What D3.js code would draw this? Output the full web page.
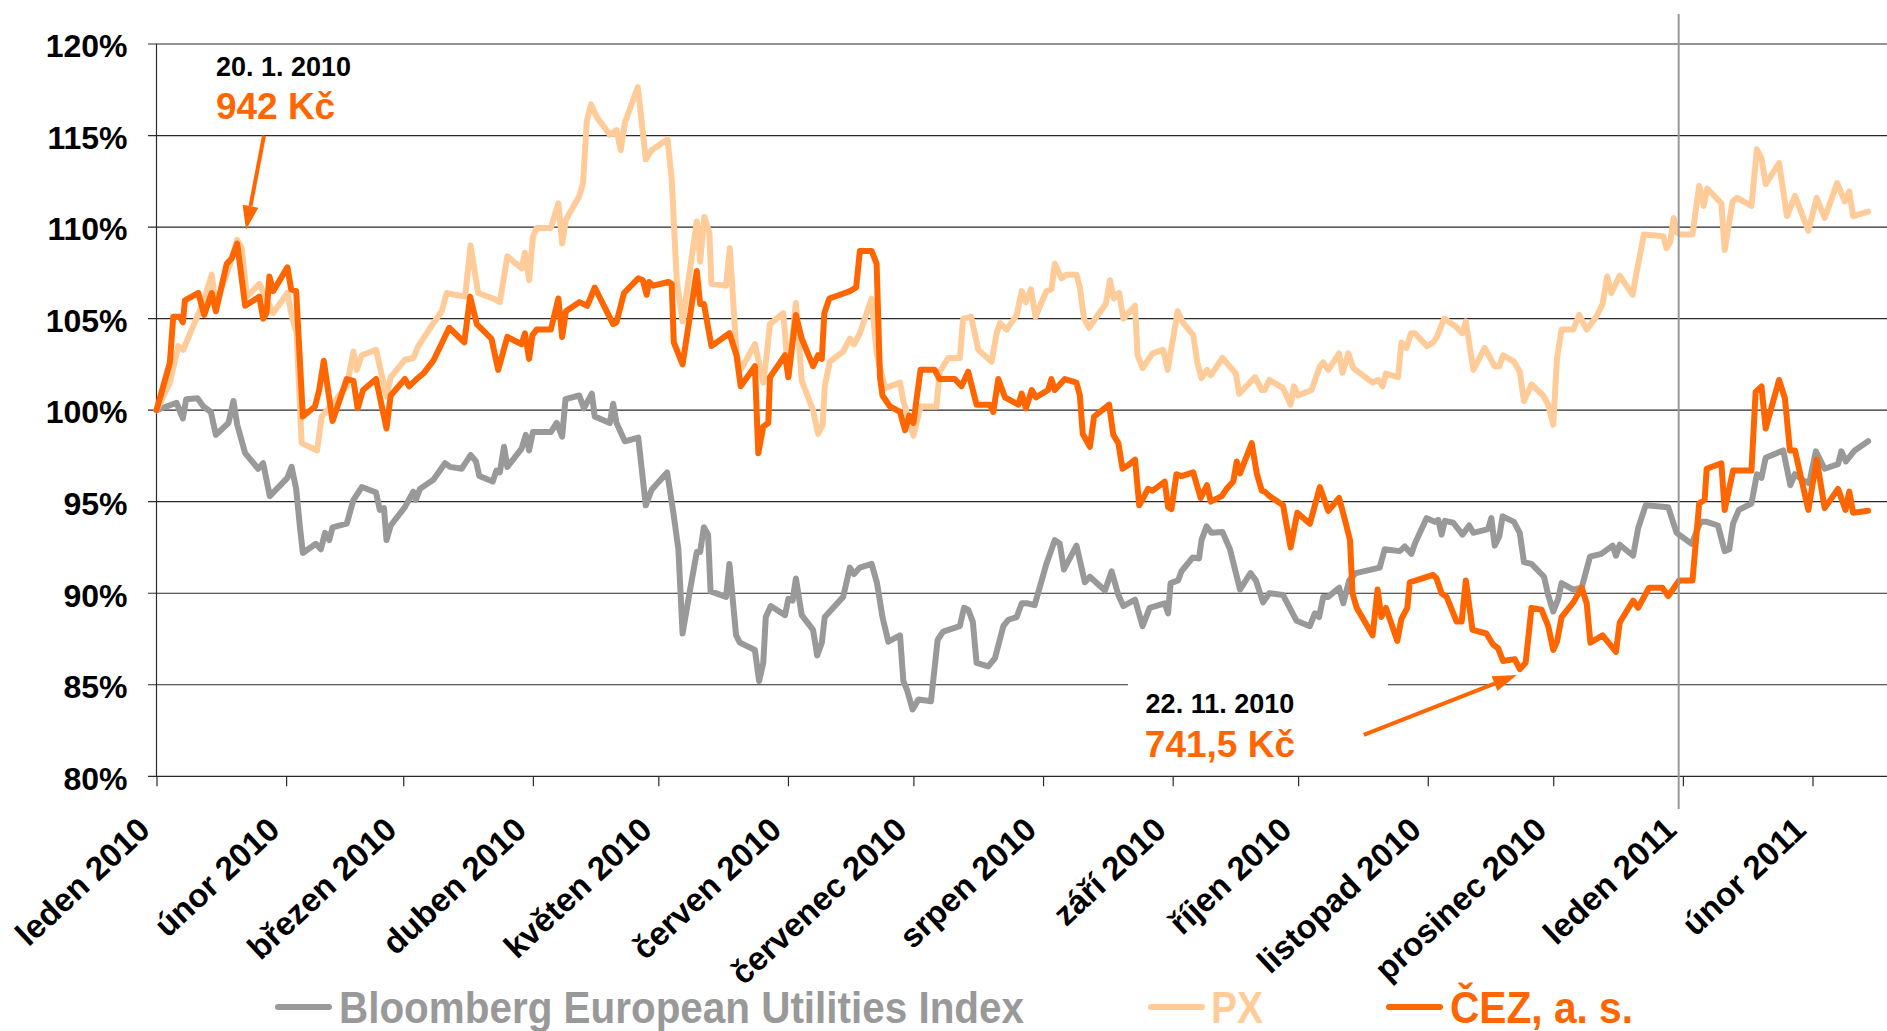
<!DOCTYPE html>
<html>
<head>
<meta charset="utf-8">
<script src="https://cdnjs.cloudflare.com/ajax/libs/d3/7.8.5/d3.min.js"></script>
<style>
  body { margin: 0; background: #fff; }
  svg { display: block; font-family: "Liberation Sans", Arial, sans-serif; font-weight: bold; }
</style>
</head>
<body>
<svg id="chart" width="1887" height="1031"></svg>
<script>
// each point: [days since 1 Jan 2010, % of the starting level]
const bloomberg = [[0,100],[2.4,100.2],[4.8,100.4],[6.3,99.55],[7.1,100.6],[9.8,100.65],[11.2,100.2],[13.0,99.9],[14.2,98.65],[17.2,99.3],[18.4,100.5],[19.3,99.2],[21.2,97.65],[24.3,96.8],[25.5,97.1],[27.1,95.3],[31.3,96.3],[32.3,96.9],[33.4,95.7],[34.3,93.6],[35.0,92.2],[38.1,92.7],[39.3,92.4],[40.3,93.3],[41.3,92.9],[42.1,93.6],[45.5,93.8],[47.1,95.1],[49.1,95.8],[52.5,95.5],[53.4,94.55],[54.4,94.65],[55.0,92.9],[56.0,93.7],[59.4,94.7],[61.4,95.55],[62.0,95.1],[63.0,95.7],[66.2,96.2],[69.0,97.1],[70.2,96.9],[73.0,96.8],[75.1,97.55],[76.4,97.2],[77.2,96.4],[80.4,96.1],[81.3,96.7],[82.1,96.6],[83.1,98.0],[83.9,96.9],[87.3,97.9],[88.3,98.65],[89.1,97.8],[90.0,98.8],[94.3,98.8],[95.7,99.3],[97.0,98.55],[97.8,100.6],[101.1,100.8],[102.2,100.1],[104.1,100.9],[104.8,99.65],[108.4,99.3],[109.2,100.35],[110.0,99.3],[112.0,98.3],[115.2,98.5],[117.0,94.8],[118.4,95.65],[122.1,96.6],[123.6,94.4],[124.8,92.4],[125.8,87.8],[127.6,90.2],[129.2,92.25],[130.0,92.25],[130.9,93.6],[131.9,93.2],[132.5,90.1],[136.2,89.8],[137.0,91.6],[138.6,87.7],[139.5,87.3],[143.1,86.9],[144.1,85.2],[145.1,86.2],[145.7,88.7],[146.9,89.3],[150.3,88.8],[151.1,89.7],[152.1,89.6],[152.9,90.8],[154.3,88.8],[157.0,88.0],[158.0,86.6],[159.1,87.3],[159.8,88.7],[164.2,89.8],[165.8,91.4],[166.8,91.05],[168.2,91.4],[171.0,91.6],[172.3,90.55],[173.6,88.7],[175.0,87.35],[177.8,87.7],[178.6,85.2],[179.5,84.7],[180.8,83.65],[182.2,84.2],[185.2,84.1],[186.8,87.45],[188.1,87.9],[192.1,88.2],[193.1,89.2],[194.1,89.1],[195.2,88.45],[196.1,86.2],[198.9,86.0],[200.5,86.45],[202.5,88.2],[203.7,88.55],[205.7,88.7],[206.9,89.45],[208.1,89.45],[210.0,89.35],[212.8,91.6],[214.8,92.9],[216.0,92.7],[217.0,91.3],[220.0,92.6],[222.0,90.6],[223.2,90.9],[226.8,90.15],[228.4,91.2],[230.0,89.9],[231.2,89.3],[234.0,89.65],[235.8,88.2],[237.5,89.2],[241.1,89.45],[241.9,88.9],[242.5,90.55],[244.3,90.7],[245.1,91.2],[247.8,91.95],[249.3,91.9],[249.9,92.9],[251.1,93.65],[252.3,93.3],[254.9,93.35],[256.7,92.4],[259.1,90.2],[261.6,91.1],[262.9,90.7],[264.6,89.5],[266.1,90.0],[269.4,89.9],[272.6,88.5],[275.8,88.2],[277.0,88.9],[278.0,88.7],[279.0,89.8],[280.2,89.8],[282.8,90.3],[283.8,89.45],[285.2,90.7],[286.8,91.1],[292.5,91.4],[293.7,92.4],[297.3,92.3],[298.5,92.55],[300.1,92.15],[300.9,92.7],[303.7,94.1],[305.7,93.9],[306.5,94.0],[307.3,93.2],[308.1,93.95],[310.1,93.85],[312.3,93.2],[313.9,93.7],[314.9,93.3],[318.4,93.5],[319.2,94.1],[320.0,92.6],[321.1,93.1],[321.9,94.2],[324.6,93.9],[326.0,93.3],[327.0,91.7],[328.8,91.6],[331.8,90.9],[332.8,89.9],[334.0,89.0],[335.2,89.7],[336.0,90.55],[338.8,90.2],[340.8,90.3],[342.8,92.0],[345.5,92.15],[348.2,92.6],[349.0,92.05],[349.9,92.65],[353.1,92.05],[354.3,93.55],[356.1,94.8],[361.5,94.7],[363.5,93.3],[367.1,92.7],[369.2,93.9],[370.7,93.9],[373.4,93.7],[375.0,92.3],[376.1,92.4],[377.0,93.8],[378.4,94.55],[381.4,94.9],[382.7,96.5],[383.8,96.3],[384.8,97.4],[389.0,97.8],[390.7,95.9],[391.8,96.5],[393.9,96.15],[395.2,96.0],[396.8,97.75],[398.9,96.8],[402.1,97.05],[402.9,97.75],[404.0,97.2],[406.1,97.8],[409.3,98.3]];

const px = [[0,100],[3.2,101.5],[5.2,103.5],[6.4,103.3],[8.4,104.4],[11.2,105.9],[13.2,107.4],[14.2,105.75],[17.6,108.0],[19.3,109.3],[20.4,108.85],[21.6,106.2],[24.6,106.9],[27.9,105.3],[31.3,106.4],[32.3,105.2],[33.5,104.2],[34.7,98.2],[38.4,97.8],[39.5,99.65],[45.5,101.3],[47.1,103.2],[47.9,102.2],[49.1,103.0],[52.5,103.3],[55.0,100.75],[56.0,101.8],[59.4,102.75],[61.4,102.85],[62.6,103.5],[66.2,104.75],[68.2,105.4],[69.4,106.4],[71.4,106.3],[73.8,106.2],[75.1,109.0],[76.9,106.4],[80.5,106.1],[82.1,105.9],[83.9,108.4],[87.3,107.75],[88.1,108.6],[89.1,107.1],[90.0,109.45],[90.9,109.95],[94.3,109.95],[96.1,111.3],[97.0,109.1],[97.9,110.4],[101.1,111.7],[102.0,112.4],[102.9,115.8],[103.9,116.7],[105.3,116.0],[108.4,115.05],[110.0,115.3],[111.0,114.2],[112.0,115.7],[115.1,117.65],[117.0,113.7],[118.4,114.2],[122.2,114.8],[123.2,112.6],[124.4,107.1],[125.8,104.85],[129.2,110.3],[130.0,108.1],[131.0,110.55],[132.2,109.7],[132.7,106.9],[136.2,106.8],[137.1,108.85],[138.7,103.1],[139.7,102.2],[143.1,103.6],[145.1,101.5],[145.7,102.6],[146.7,104.7],[149.9,105.3],[151.1,101.8],[152.9,105.85],[154.3,101.6],[157.0,100.0],[158.2,98.7],[159.3,99.2],[159.8,101.3],[161.0,102.65],[164.2,103.2],[165.8,103.9],[166.8,103.6],[168.2,104.2],[171.0,106.1],[172.2,103.1],[174.2,101.2],[177.8,101.5],[178.6,100.5],[181.0,98.6],[182.7,100.2],[186.5,100.2],[187.3,102.1],[189.3,102.85],[192.1,102.85],[192.9,105.0],[194.8,105.1],[196.5,103.3],[199.7,102.65],[200.9,104.2],[201.7,104.75],[203.3,104.4],[205.7,105.2],[206.9,106.5],[207.9,105.9],[209.1,106.6],[210.2,105.1],[212.8,106.5],[214.0,106.6],[214.8,108.0],[216.4,107.2],[217.6,107.4],[220.0,107.4],[220.8,106.7],[221.8,105.0],[223.0,104.5],[224.8,105.1],[227.0,105.8],[228.0,107.1],[228.9,106.1],[230.2,106.4],[231.2,105.0],[234.0,105.7],[234.6,103.0],[235.8,102.3],[238.2,103.1],[240.7,103.3],[241.8,102.2],[244.2,105.4],[245.4,104.8],[247.9,104.1],[248.9,102.6],[249.9,101.75],[251.2,102.2],[252.1,101.9],[254.9,102.85],[258.1,102.0],[258.9,100.9],[262.7,101.8],[264.3,101.1],[265.0,101.1],[266.1,101.65],[269.4,101.2],[271.2,100.3],[272.0,101.3],[273.0,100.8],[276.2,101.1],[278.2,102.4],[279.0,102.6],[280.2,102.2],[282.8,103.1],[283.6,102.05],[285.0,103.1],[286.2,102.3],[290.8,101.5],[292.1,101.65],[293.2,101.3],[294.0,102.0],[296.9,101.8],[297.7,103.7],[298.9,103.4],[300.0,104.2],[300.9,104.2],[303.8,103.5],[305.3,103.7],[306.2,104.0],[307.9,105.0],[310.5,104.6],[312.3,104.2],[313.1,104.85],[314.9,102.2],[317.6,103.4],[320.0,102.4],[321.1,102.4],[322.0,103.0],[324.6,102.65],[326.0,102.1],[327.0,100.5],[328.8,101.4],[331.6,100.8],[332.8,100.3],[334.0,99.2],[334.9,102.85],[336.0,104.4],[338.8,104.4],[340.2,105.2],[342.0,104.4],[344.3,105.1],[345.8,105.8],[346.9,107.3],[347.9,106.4],[349.9,107.35],[353.0,106.3],[353.9,107.5],[355.7,109.6],[360.3,109.5],[361.1,108.85],[362.0,109.2],[362.8,110.5],[363.6,109.7],[364.3,109.6],[367.3,109.6],[368.9,112.25],[370.0,111.15],[370.8,112.1],[374.2,111.3],[375.0,108.75],[376.9,111.4],[378.0,111.6],[381.4,111.15],[382.7,114.25],[383.8,113.75],[384.8,112.35],[388.0,113.5],[389.9,110.6],[391.8,111.7],[395.0,109.8],[397.0,111.6],[398.9,110.5],[401.9,112.4],[403.7,111.4],[404.8,111.95],[405.7,110.6],[409.3,110.85]];

const cez = [[0,100],[1.6,101.3],[3.2,102.6],[4.0,105.1],[5.6,105.1],[6.3,104.8],[6.8,106.0],[10.0,106.4],[11.4,105.2],[13.2,106.4],[14.2,105.4],[16.8,108.0],[18.0,108.3],[19.3,109.1],[21.2,105.7],[24.6,106.2],[25.5,105.0],[26.3,105.3],[27.0,107.3],[27.9,106.5],[31.3,107.8],[32.2,106.6],[33.4,106.5],[35.0,99.65],[37.9,100.2],[38.9,101.1],[40.0,102.7],[42.1,99.4],[45.5,101.7],[47.1,101.6],[48.1,100.1],[49.4,101.1],[52.5,101.7],[55.0,99.0],[56.0,100.8],[59.4,101.7],[60.4,101.3],[62.2,101.7],[63.8,102.0],[66.2,102.7],[70.0,104.5],[73.6,103.7],[75.0,106.2],[76.6,104.7],[80.1,103.9],[81.7,102.2],[83.9,104.0],[87.3,103.6],[88.1,104.2],[89.1,102.8],[89.9,104.1],[90.9,104.4],[94.3,104.4],[96.1,106.1],[97.0,104.0],[97.9,105.4],[101.1,105.9],[103.0,105.7],[104.8,106.7],[109.2,104.7],[110.0,104.8],[111.8,106.4],[115.2,107.2],[116.3,107.1],[117.2,106.3],[117.8,107.0],[118.8,106.8],[122.4,107.0],[123.2,106.9],[123.7,103.7],[125.8,102.5],[129.2,107.6],[130.0,105.8],[130.9,105.8],[132.7,103.5],[137.0,104.2],[138.7,103.0],[139.7,101.3],[143.1,102.4],[143.9,97.65],[145.1,99.1],[146.3,99.3],[146.7,101.8],[150.3,103.0],[151.1,101.8],[152.9,105.2],[154.3,103.9],[157.0,102.4],[158.2,103.0],[159.1,102.8],[159.7,105.3],[160.9,106.1],[164.6,106.4],[165.8,106.5],[167.3,106.7],[168.2,108.7],[171.0,108.7],[172.2,108.0],[173.0,101.8],[173.6,100.8],[175.4,100.2],[177.8,99.9],[179.0,98.9],[180.0,99.7],[181.0,99.3],[182.7,102.2],[186.1,102.2],[187.2,101.7],[190.9,101.7],[192.5,101.3],[194.1,102.1],[196.1,100.3],[199.3,100.3],[200.1,99.9],[201.3,101.7],[202.9,100.7],[206.1,100.3],[206.9,100.9],[207.9,100.1],[209.3,101.1],[210.3,100.7],[213.2,101.1],[214.0,101.7],[214.8,101.1],[217.2,101.7],[220.0,101.5],[220.8,100.8],[221.5,98.7],[223.2,98.0],[224.2,99.65],[227.8,100.3],[228.8,98.65],[230.0,98.2],[231.0,96.8],[232.4,97.0],[234.0,97.3],[235.0,94.8],[237.1,95.7],[238.2,95.6],[241.1,96.1],[241.9,94.7],[242.7,94.6],[243.9,96.5],[245.1,96.4],[247.9,96.6],[249.7,95.2],[251.2,95.9],[252.1,95.0],[254.7,95.3],[255.9,95.7],[257.5,96.1],[258.3,97.2],[259.1,96.55],[261.9,98.2],[263.1,96.55],[264.3,95.6],[265.0,95.55],[266.2,95.3],[269.4,94.8],[271.2,92.5],[272.8,94.4],[275.8,93.8],[278.2,95.8],[280.2,94.5],[282.8,95.2],[284.2,94.0],[285.4,92.9],[286.0,90.0],[287.0,89.2],[290.8,87.7],[292.0,90.2],[292.9,88.7],[294.0,89.2],[296.7,87.4],[297.7,88.6],[299.1,89.2],[299.7,90.6],[302.5,90.8],[305.3,91.0],[306.1,90.8],[307.3,90.0],[308.5,89.8],[310.9,88.45],[312.1,88.45],[313.1,90.7],[314.7,88.0],[318.0,87.8],[319.6,87.2],[320.8,87.0],[322.0,86.3],[324.8,86.4],[326.0,85.85],[327.4,86.2],[328.8,89.2],[331.2,89.1],[332.8,88.2],[334.0,86.9],[334.9,87.35],[336.0,88.7],[338.8,89.5],[340.8,90.3],[342.0,89.45],[342.9,87.3],[345.8,87.7],[349.0,86.8],[349.9,88.4],[353.1,89.6],[354.3,89.2],[356.9,90.3],[360.1,90.3],[361.5,89.85],[364.1,90.7],[367.3,90.7],[368.9,94.9],[370.2,95.1],[370.7,96.8],[374.2,97.1],[375.0,94.55],[377.0,96.7],[381.4,96.7],[382.4,101.0],[383.8,101.3],[384.8,99.0],[388.0,101.65],[389.4,100.65],[390.6,97.8],[391.8,97.8],[395.0,94.55],[397.0,97.3],[398.9,94.65],[402.1,95.7],[403.9,94.55],[404.8,95.55],[405.7,94.4],[409.3,94.5]];

const monthLabels = ["leden 2010", "únor 2010", "březen 2010", "duben 2010", "květen 2010",
  "červen 2010", "červenec 2010", "srpen 2010", "září 2010", "říjen 2010",
  "listopad 2010", "prosinec 2010", "leden 2011", "únor 2011"];
const yTicks = [80, 85, 90, 95, 100, 105, 110, 115, 120];

const seriesNames = ["Bloomberg European Utilities Index", "PX", "ČEZ, a. s."];
const seriesColors = ["#999999", "#ffcc99", "#ff6600"];

const START = Date.UTC(2010, 0, 1);
const toDate = (d) => new Date(START + d * 864e5);

const width = 1887, height = 1031;
const svg = d3.select("#chart");
svg.append("rect").attr("width", width).attr("height", height).attr("fill", "#fff");

const x = d3.scaleUtc()
  .domain([toDate(0), new Date(Date.UTC(2011, 1, 1))])
  .range([156.5, 1812.5]);

const y = d3.scaleLinear().domain([80, 120]).range([776.3, 44]);

// horizontal gridlines (they also run over the small left ticks)
svg.append("g")
  .selectAll("line")
  .data(yTicks)
  .join("line")
  .attr("x1", 148)
  .attr("x2", width)
  .attr("y1", (d) => y(d))
  .attr("y2", (d) => y(d))
  .attr("stroke", "#2a2a2a")
  .attr("stroke-width", 1.2);

// left axis line
svg.append("line")
  .attr("x1", x(toDate(0))).attr("x2", x(toDate(0)))
  .attr("y1", y(120)).attr("y2", y(80))
  .attr("stroke", "#2a2a2a").attr("stroke-width", 1.2);

// y labels
const yAxis = svg.append("g")
  .attr("transform", `translate(${x(toDate(0))},0)`)
  .call(d3.axisLeft(y).tickValues(yTicks).tickSize(0).tickPadding(29).tickFormat((d) => d + "%"));
yAxis.select(".domain").remove();
yAxis.selectAll("text")
  .attr("fill", "#000")
  .attr("dy", "0.4em")
  .style("font-size", "32px")
  .style("font-family", "'Liberation Sans', Arial, sans-serif")
  .style("font-weight", "bold");

// x axis: month ticks with rotated labels
const months = d3.utcMonth.range(toDate(0), new Date(Date.UTC(2011, 1, 2)));
const xAxis = svg.append("g")
  .attr("transform", `translate(0,${y(80)})`)
  .call(d3.axisBottom(x).tickValues(months).tickSize(10).tickFormat((d, i) => monthLabels[i]));
xAxis.select(".domain").remove();
xAxis.selectAll(".tick line").attr("stroke", "#2a2a2a").attr("stroke-width", 1.2);
xAxis.selectAll("text")
  .attr("fill", "#000")
  .attr("x", 0).attr("y", 0).attr("dy", 0)
  .attr("text-anchor", "end")
  .attr("transform", "translate(-5,56) rotate(-43)")
  .style("font-size", "33px")
  .style("font-family", "'Liberation Sans', Arial, sans-serif")
  .style("font-weight", "bold");

// white text box of the lower annotation hides part of the 85 % gridline
svg.append("rect")
  .attr("x", x(toDate(232.3))).attr("width", x(toDate(294.5)) - x(toDate(232.3)))
  .attr("y", y(85.9)).attr("height", y(80.4) - y(85.9))
  .attr("fill", "#fff");

// series lines
const line = d3.line()
  .x((d) => x(toDate(d[0])))
  .y((d) => y(d[1]));

[bloomberg, px, cez].forEach((data, i) => {
  svg.append("path")
    .datum(data)
    .attr("fill", "none")
    .attr("stroke", seriesColors[i])
    .attr("stroke-width", 6)
    .attr("stroke-linejoin", "round")
    .attr("stroke-linecap", "round")
    .attr("d", line);
});

// separator at year end
svg.append("line")
  .attr("x1", x(toDate(364))).attr("x2", x(toDate(364)))
  .attr("y1", 14).attr("y2", 809)
  .attr("stroke", "#999").attr("stroke-width", 2);

// annotations: arrows from text to the CEZ max / min
const arrows = [
  { from: [25.7, 115.0], to: [21.4, 109.85] },
  { from: [288.7, 82.26], to: [325.3, 85.54] },
];
arrows.forEach((a) => {
  const x1 = x(toDate(a.from[0])), y1 = y(a.from[1]);
  const x2 = x(toDate(a.to[0])), y2 = y(a.to[1]);
  const ang = Math.atan2(y2 - y1, x2 - x1);
  const len = 24, half = 8;
  const bx = x2 - len * Math.cos(ang), by = y2 - len * Math.sin(ang);
  svg.append("line")
    .attr("x1", x1).attr("y1", y1).attr("x2", bx).attr("y2", by)
    .attr("stroke", "#ff6600").attr("stroke-width", 4);
  svg.append("polygon")
    .attr("points", [
      [x2, y2],
      [bx + half * Math.sin(ang), by - half * Math.cos(ang)],
      [bx - half * Math.sin(ang), by + half * Math.cos(ang)],
    ].map((p) => p.join(",")).join(" "))
    .attr("fill", "#ff6600");
});

const notes = [
  { day: 14.2, anchor: "start", date: "20. 1. 2010", price: "942 Kč", yDate: 118.27, yPrice: 115.92 },
  { day: 254.3, anchor: "middle", date: "22. 11. 2010", price: "741,5 Kč", yDate: 83.46, yPrice: 81.05 },
];
notes.forEach((n) => {
  svg.append("text")
    .attr("x", x(toDate(n.day))).attr("y", y(n.yDate))
    .attr("text-anchor", n.anchor)
    .attr("fill", "#000")
    .style("font-size", "27px")
    .text(n.date);
  svg.append("text")
    .attr("x", x(toDate(n.day))).attr("y", y(n.yPrice))
    .attr("text-anchor", n.anchor)
    .attr("fill", "#ff6600")
    .style("font-size", "37px")
    .text(n.price);
});

// legend (text is squeezed a bit horizontally, as in the original)
const legendItems = [
  { x: 278, textX: 339, textW: 685 },
  { x: 1151, textX: 1211, textW: 52 },
  { x: 1389, textX: 1450, textW: 183 },
];
legendItems.forEach((it, i) => {
  svg.append("line")
    .attr("x1", it.x).attr("x2", it.x + 51)
    .attr("y1", 1007).attr("y2", 1007)
    .attr("stroke", seriesColors[i])
    .attr("stroke-width", 6)
    .attr("stroke-linecap", "round");
  svg.append("text")
    .attr("x", it.textX).attr("y", 1023)
    .attr("fill", seriesColors[i])
    .attr("textLength", it.textW)
    .attr("lengthAdjust", "spacingAndGlyphs")
    .style("font-size", "44px")
    .text(seriesNames[i]);
});
</script>
</body>
</html>
